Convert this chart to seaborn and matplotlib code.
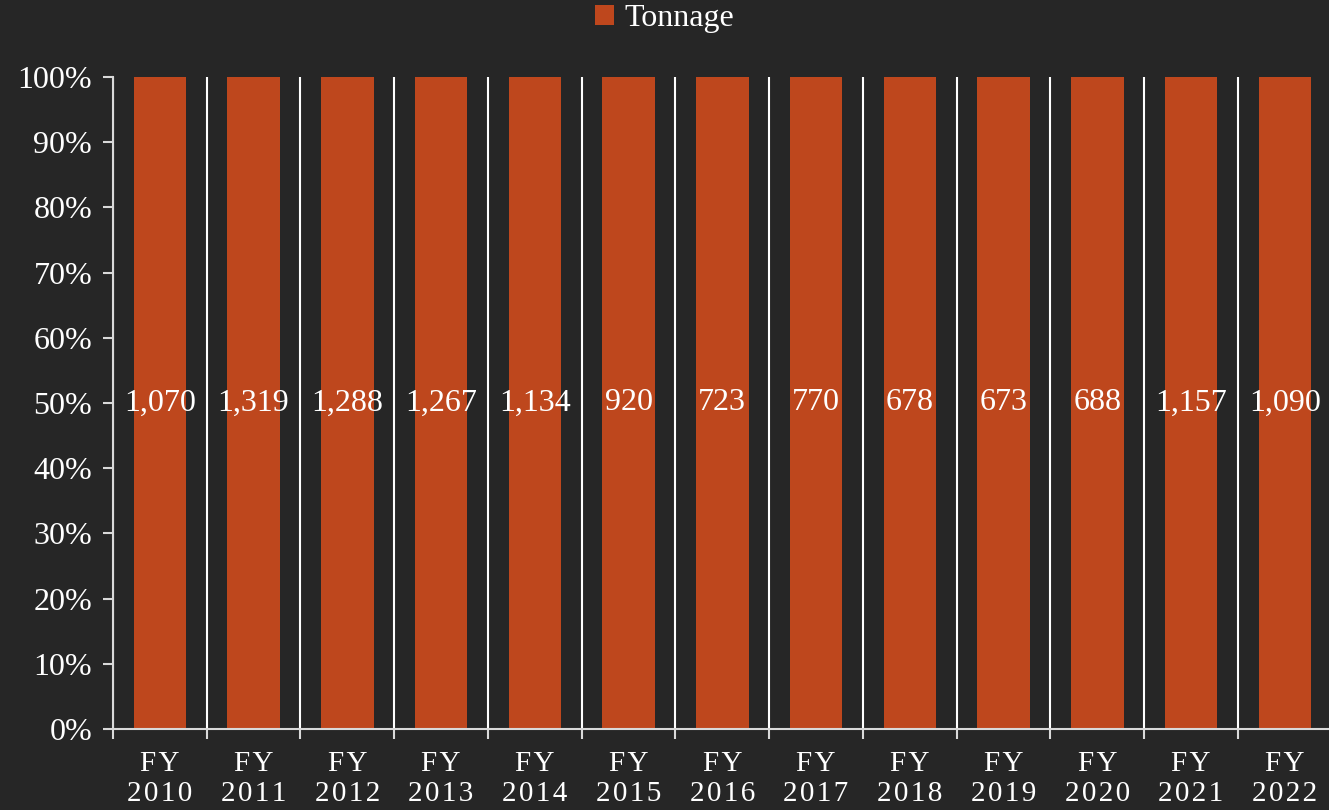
import numpy as np
import pandas as pd
import matplotlib
matplotlib.use("Agg")
import matplotlib.pyplot as plt
import seaborn as sns
from matplotlib.ticker import FixedLocator, PercentFormatter

# data
years = ["2010", "2011", "2012", "2013", "2014", "2015", "2016",
         "2017", "2018", "2019", "2020", "2021", "2022"]
tonnage = [1070, 1319, 1288, 1267, 1134, 920, 723, 770, 678, 673, 688, 1157, 1090]

bg = "#262626"
bar_color = "#BE471D"
axis_color = "#D9D9D9"

sns.set_style("dark", {"axes.facecolor": bg, "figure.facecolor": bg})
plt.rcParams["font.family"] = ["Liberation Serif", "DejaVu Serif"]

df = pd.DataFrame({"year": years, "Tonnage": tonnage})
# single series in a 100% stacked chart -> every bar is its share of the total
df["share"] = df["Tonnage"] / df["Tonnage"] * 100
sp = "\u200a"
df["label"] = ["F" + sp + "Y\n" + sp.join(y) for y in df["year"]]

fig = plt.figure(figsize=(13.29, 8.10), dpi=100)
ax = fig.add_axes([0.085, 0.1, 0.917, 0.805])

sns.barplot(data=df, x="label", y="share", color=bar_color, width=0.56,
            saturation=1, label="Tonnage", edgecolor="none", linewidth=0, ax=ax)
if ax.get_legend() is not None:
    ax.get_legend().remove()

ax.bar_label(ax.containers[0], labels=[f"{v:,}" for v in tonnage],
             label_type="center", color="white", fontsize=23)

ax.set_xlim(-0.5, len(years) - 0.5)
ax.set_ylim(0, 100)
ax.set_xlabel("")
ax.set_ylabel("")
ax.yaxis.set_major_locator(FixedLocator(np.arange(0, 101, 10)))
ax.yaxis.set_major_formatter(PercentFormatter(decimals=0))

# category separators
ax.xaxis.set_minor_locator(FixedLocator(np.arange(-0.5, len(years), 1)))
ax.grid(False)
ax.grid(which="minor", axis="x", color="white", linewidth=1.5)
ax.tick_params(axis="x", which="major", length=0, pad=16, colors="white", labelsize=21)
ax.tick_params(axis="x", which="minor", length=7, width=1.5, color=axis_color, bottom=True)
ax.tick_params(axis="y", length=7, width=1.5, color=axis_color, left=True,
               colors="white", labelsize=23, pad=8)
for lbl in ax.get_xticklabels():
    lbl.set_linespacing(1.2)

for side in ["top", "right"]:
    ax.spines[side].set_visible(False)
for side in ["left", "bottom"]:
    ax.spines[side].set_visible(True)
    ax.spines[side].set_color(axis_color)
    ax.spines[side].set_linewidth(1.5)

handles, labels = ax.get_legend_handles_labels()
fig.legend(handles[:1], labels[:1], loc="upper center", bbox_to_anchor=(0.5, 1.03),
           frameon=False, fontsize=23, labelcolor="white", handlelength=0.6,
           handleheight=0.6, handletextpad=0.3)

fig.savefig("out.png", dpi=100, facecolor=bg)
